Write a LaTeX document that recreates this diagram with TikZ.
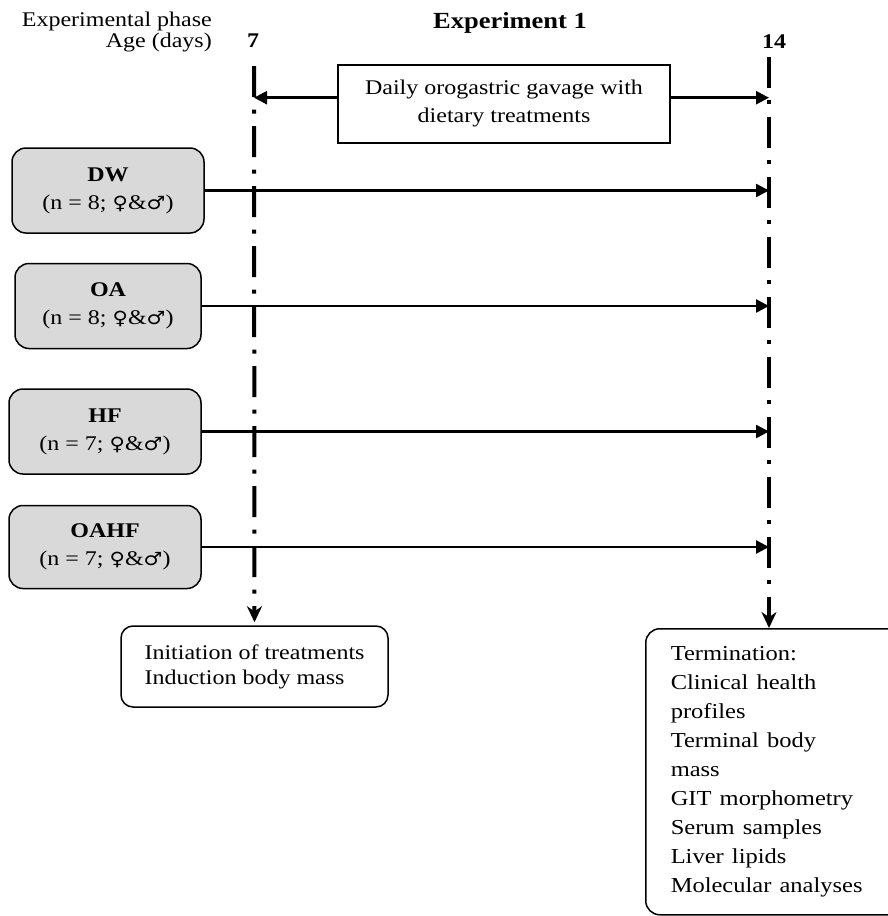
\documentclass[tikz,border=0pt]{standalone}
\usepackage{fontspec}
\setmainfont{Liberation Serif}
\newfontfamily\gendfont{DejaVu Sans}
\usetikzlibrary{arrows.meta,positioning}
\definecolor{boxgray}{RGB}{217,217,217}
\newcommand{\sq}[1]{\scalebox{1}[0.87]{#1}}
\newcommand{\sexes}{{\gendfont\fontsize{21}{24}\selectfont ♀}\&{\gendfont\fontsize{21}{24}\selectfont ♂}}

\begin{document}
\begin{tikzpicture}[x=1pt,y=-1pt,
    every node/.style={font=\fontsize{24}{28}\selectfont},
    group/.style={draw, fill=boxgray, rounded corners=14pt, line width=1.5pt,
        align=center, minimum width=192pt, minimum height=85pt},
    note/.style={draw, rounded corners=12pt, line width=1.5pt, align=left},
    timeline/.style={line width=4pt,
        dash pattern=on 31pt off 12.5pt on 4pt off 12.5pt,
        -{Stealth[length=16pt,width=15pt]}},
    feed/.style={line width=2.5pt, -{Triangle[length=13pt,width=13pt]}}]
    \useasboundingbox (0,0) rectangle (887,916);
    % set up the headings
    \node[anchor=base east, inner sep=0pt] (phase) at (212,26.7) {\sq{Experimental phase}};
    \node[anchor=base east, inner sep=0pt] (age) at (212,47) {\sq{Age (days)}};
    \node[anchor=base, inner sep=0pt] (d7) at (253,47) {\sq{\textbf{7}}};
    \node[anchor=base, inner sep=0pt] (d14) at (774,48) {\sq{\textbf{14}}};
    \node[anchor=base, inner sep=0pt, font=\fontsize{26.5}{30}\selectfont] (exp) at (510,28.3) {\sq{\textbf{Experiment 1}}};
    \coordinate (top7) at (254,66);
    \coordinate (top14) at (769,56.7);
    % treatment box
    \node[draw, line width=1.5pt, minimum width=332pt, minimum height=78pt, align=center] (gav) at (504,104)
        {\sq{Daily orogastric gavage with}\\\sq{dietary treatments}};
    % groups
    \node[group] (DW) at (108,190.5) {\sq{\textbf{DW}}\\\sq{(n = 8; \sexes)}};
    \node[group, minimum width=186pt, below=29pt of DW] (OA) {\sq{\textbf{OA}}\\\sq{(n = 8; \sexes)}};
    \node[group, below=39pt of OA, xshift=-3pt] (HF) {\sq{\textbf{HF}}\\\sq{(n = 7; \sexes)}};
    \node[group, minimum height=83pt, below=30pt of HF] (OAHF) {\sq{\textbf{OAHF}}\\\sq{(n = 7; \sexes)}};
    % outcome boxes
    \node[note, minimum width=267pt, minimum height=81pt, font=\fontsize{24}{25}\selectfont] (init) at (254.5,666.5)
        {\sq{Initiation of treatments}\\\sq{Induction body mass}};
    \node[note, anchor=north west, rounded corners=14pt, text width=215pt, inner xsep=25pt, minimum height=286pt,
        font=\fontsize{24.5}{29}\selectfont] (term) at (645,628)
        {\sq{Termination:}\\\sq{Clinical health}\\\sq{profiles}\\\sq{Terminal body}\\\sq{mass}\\
         \sq{GIT morphometry}\\\sq{Serum samples}\\\sq{Liver lipids}\\\sq{Molecular analyses}};
    % draw the time lines and arrows
    \draw[timeline, shorten >=3pt] (top7) -- (init.north);
    \draw[timeline] (top14) -- (top14 |- term.north);
    \draw[feed] ([yshift=6.3pt]gav.west) -- ([yshift=6.3pt]gav.west -| top7);
    \draw[feed] ([yshift=6.3pt]gav.east) -- ([yshift=6.3pt]gav.east -| top14);
    \draw[feed] (DW.east) -- (DW.east -| top14);
    \draw[feed] (OA.east) -- (OA.east -| top14);
    \draw[feed] (HF.east) -- (HF.east -| top14);
    \draw[feed] (OAHF.east) -- (OAHF.east -| top14);
\end{tikzpicture}
\end{document}
